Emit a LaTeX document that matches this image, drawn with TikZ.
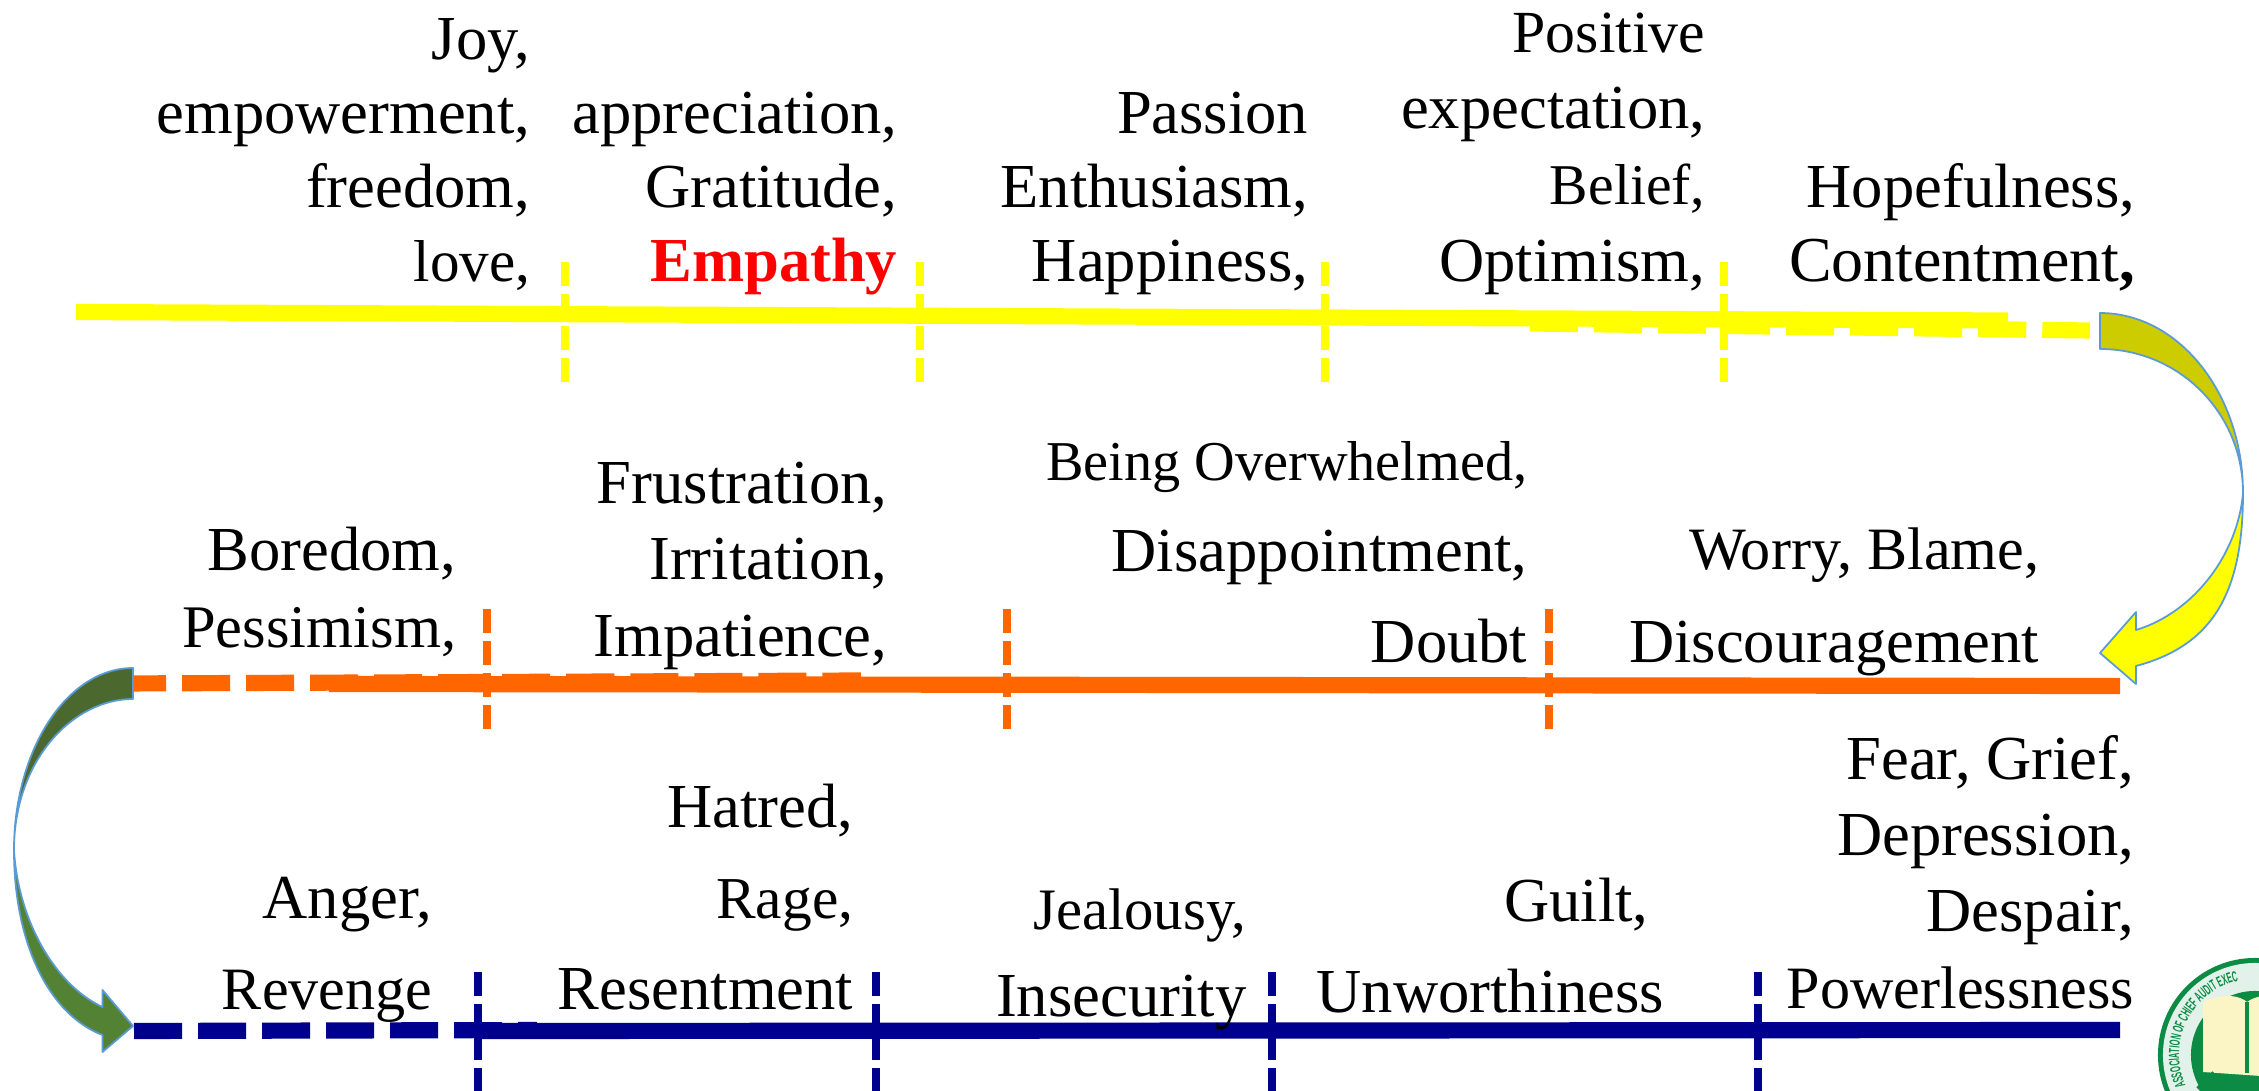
\documentclass[tikz,border=0pt]{standalone}
\usepackage{fontspec}
\usepackage{tikz}
\usetikzlibrary{decorations.text}
\setmainfont{Liberation Serif}
\newfontfamily\logofont[FakeStretch=0.5]{Liberation Sans}
\newcommand{\sized}[2]{{\fontsize{#1}{21}\selectfont #2}}
\definecolor{sunyellow}{HTML}{FFFF00}
\definecolor{darkyellow}{HTML}{CCCC00}
\definecolor{moodorange}{HTML}{FF6600}
\definecolor{mooddblue}{HTML}{00008E}
\definecolor{darkgreen}{HTML}{4B692F}
\definecolor{midgreen}{HTML}{548235}
\definecolor{edgeblue}{HTML}{5B9BD5}
\definecolor{logogreen}{HTML}{0C8B45}
\definecolor{logocream}{HTML}{FBF4C4}
\begin{document}
\begin{tikzpicture}[x=0.01cm,y=-0.01cm,
	every node/.style={font=\fontsize{17.8}{21}\selectfont, align=right, anchor=south east, inner sep=0pt, text depth=0pt},
	wide/.style={font=\fontsize{17.8}{25.9}\selectfont},
	loose/.style={font=\fontsize{17.8}{21.7}\selectfont},
	band/.style={line width=4.6pt},
	dashband/.style={line width=4.6pt, dash pattern=on 0.48cm off 0.16cm},
	tick/.style={line width=2.3pt, dash pattern=on 0.24cm off 0.08cm},
	curve/.style={draw=edgeblue, line width=0.5pt, line join=round}]
	\clip (0,0) rectangle (2259,1091);
	\fill[white] (0,0) rectangle (2259,1091);
	\draw[band, sunyellow] (76,312) -- (2008,320.5);
	\draw[dashband, sunyellow] (1530,323.5) -- (2090,330.5);
	\foreach \x in {565,920,1325,1724} {
		\draw[tick, sunyellow] (\x,262) -- (\x,382);
	}
	\draw[band, moodorange] (329,684) -- (2120,686);
	\draw[dashband, moodorange] (118,683.5) -- (861,680.5);
	\foreach \x in {487,1007,1549} {
		\draw[tick, moodorange] (\x,609) -- (\x,729);
	}
	\draw[band, mooddblue] (480,1031) -- (2120,1030);
	\draw[dashband, mooddblue] (134,1031) -- (537,1030);
	\foreach \x in {478,876,1272,1758} {
		\draw[tick, mooddblue] (\x,972) -- (\x,1092);
	}
	\draw[curve, fill=sunyellow] (2243,493) .. controls (2243,590) and (2215,645) .. (2136,666) -- (2136,684) -- (2100,653) -- (2136,612) -- (2136,630) .. controls (2195,612) and (2238,553) .. (2243,493) -- cycle;
	\draw[curve, fill=darkyellow] (2100,313) .. controls (2179,313) and (2243,394) .. (2243,493) .. controls (2243,413) and (2179,349) .. (2100,349) -- cycle;
	\draw[curve, fill=midgreen] (14,850) .. controls (14,945) and (50,1015) .. (102.5,1035) -- (102.5,1052) -- (133,1026) -- (102.5,990) -- (102.5,1007) .. controls (55,985) and (18,920) .. (14,850) -- cycle;
	\draw[curve, fill=darkgreen] (133,668) .. controls (67,668) and (14,750) .. (14,850) .. controls (14,760) and (73,699) .. (133,699) -- cycle;
	\node (joy) at (531,282) {Joy,\\empowerment,\\freedom,\\\sized{16.8}{love,}};
	\node (gratitude) at (898,282) {appreciation,\\Gratitude,\\\textcolor{red}{\textbf{Empathy}}};
	\node (passion) at (1309,282) {Passion\\Enthusiasm,\\Happiness,};
	\node[loose] (belief) at (1706,282) {\sized{17}{Positive}\\expectation,\\\sized{16.4}{Belief,}\\Optimism,};
	\node (hope) at (2136,282) {Hopefulness,\\\sized{18.2}{Contentment}\textbf{,}};
	\node[loose] (boredom) at (457,648) {Boredom,\\\sized{17.2}{Pessimism,}};
	\node[loose] (frustration) at (888,657) {Frustration,\\Irritation,\\Impatience,};
	\node[wide] (doubt) at (1528,663) {\sized{16}{Being Overwhelmed,}\\Disappointment,\\Doubt};
	\node[font=\fontsize{17.8}{26.4}\selectfont] (worry) at (2040,663) {\sized{17.1}{Worry, Blame,}\\Discouragement};
	\node[loose] (fear) at (2135,1009) {Fear, Grief,\\Depression,\\Despair,\\\sized{17.1}{Powerlessness}};
	\node[wide] (hatred) at (854,1010) {Hatred,\\\sized{16.9}{Rage,}\\Resentment};
	\node[wide] (anger) at (433,1010) {Anger,\\\sized{17.1}{Revenge}};
	\node[font=\fontsize{17.8}{24.8}\selectfont] (jealousy) at (1247,1017) {\sized{16.7}{Jealousy,}\\Insecurity};
	\node[wide] (guilt) at (1665,1013) {Guilt,\hspace*{4.5pt}\\Unworthiness};
	\fill[logogreen] (2255,1055) circle (0.97cm);
	\fill[white!88!logogreen] (2255,1055) circle (0.92cm);
	\fill[logogreen] (2255,1055) circle (0.64cm);
	\fill[logocream] (2203,1002) .. controls (2225,992) and (2240,996) .. (2247,1002) .. controls (2255,996) and (2270,992) .. (2290,1002) -- (2290,1078) -- (2203,1072) -- cycle;
	\draw[logogreen, line width=1pt] (2247,1002) -- (2247,1073);
	\draw[logogreen, line width=3pt] (2200,1091) -- (2216,1075);
	\path[decorate, decoration={text along path, text color=logogreen, text={|\logofont\bfseries\fontsize{4.2}{4.2}\selectfont|ASSOCIATION OF CHIEF AUDIT EXEC}}] (2185.6,1085.9) arc[start angle=204, end angle=70, radius=0.76cm];
\end{tikzpicture}
\end{document}
